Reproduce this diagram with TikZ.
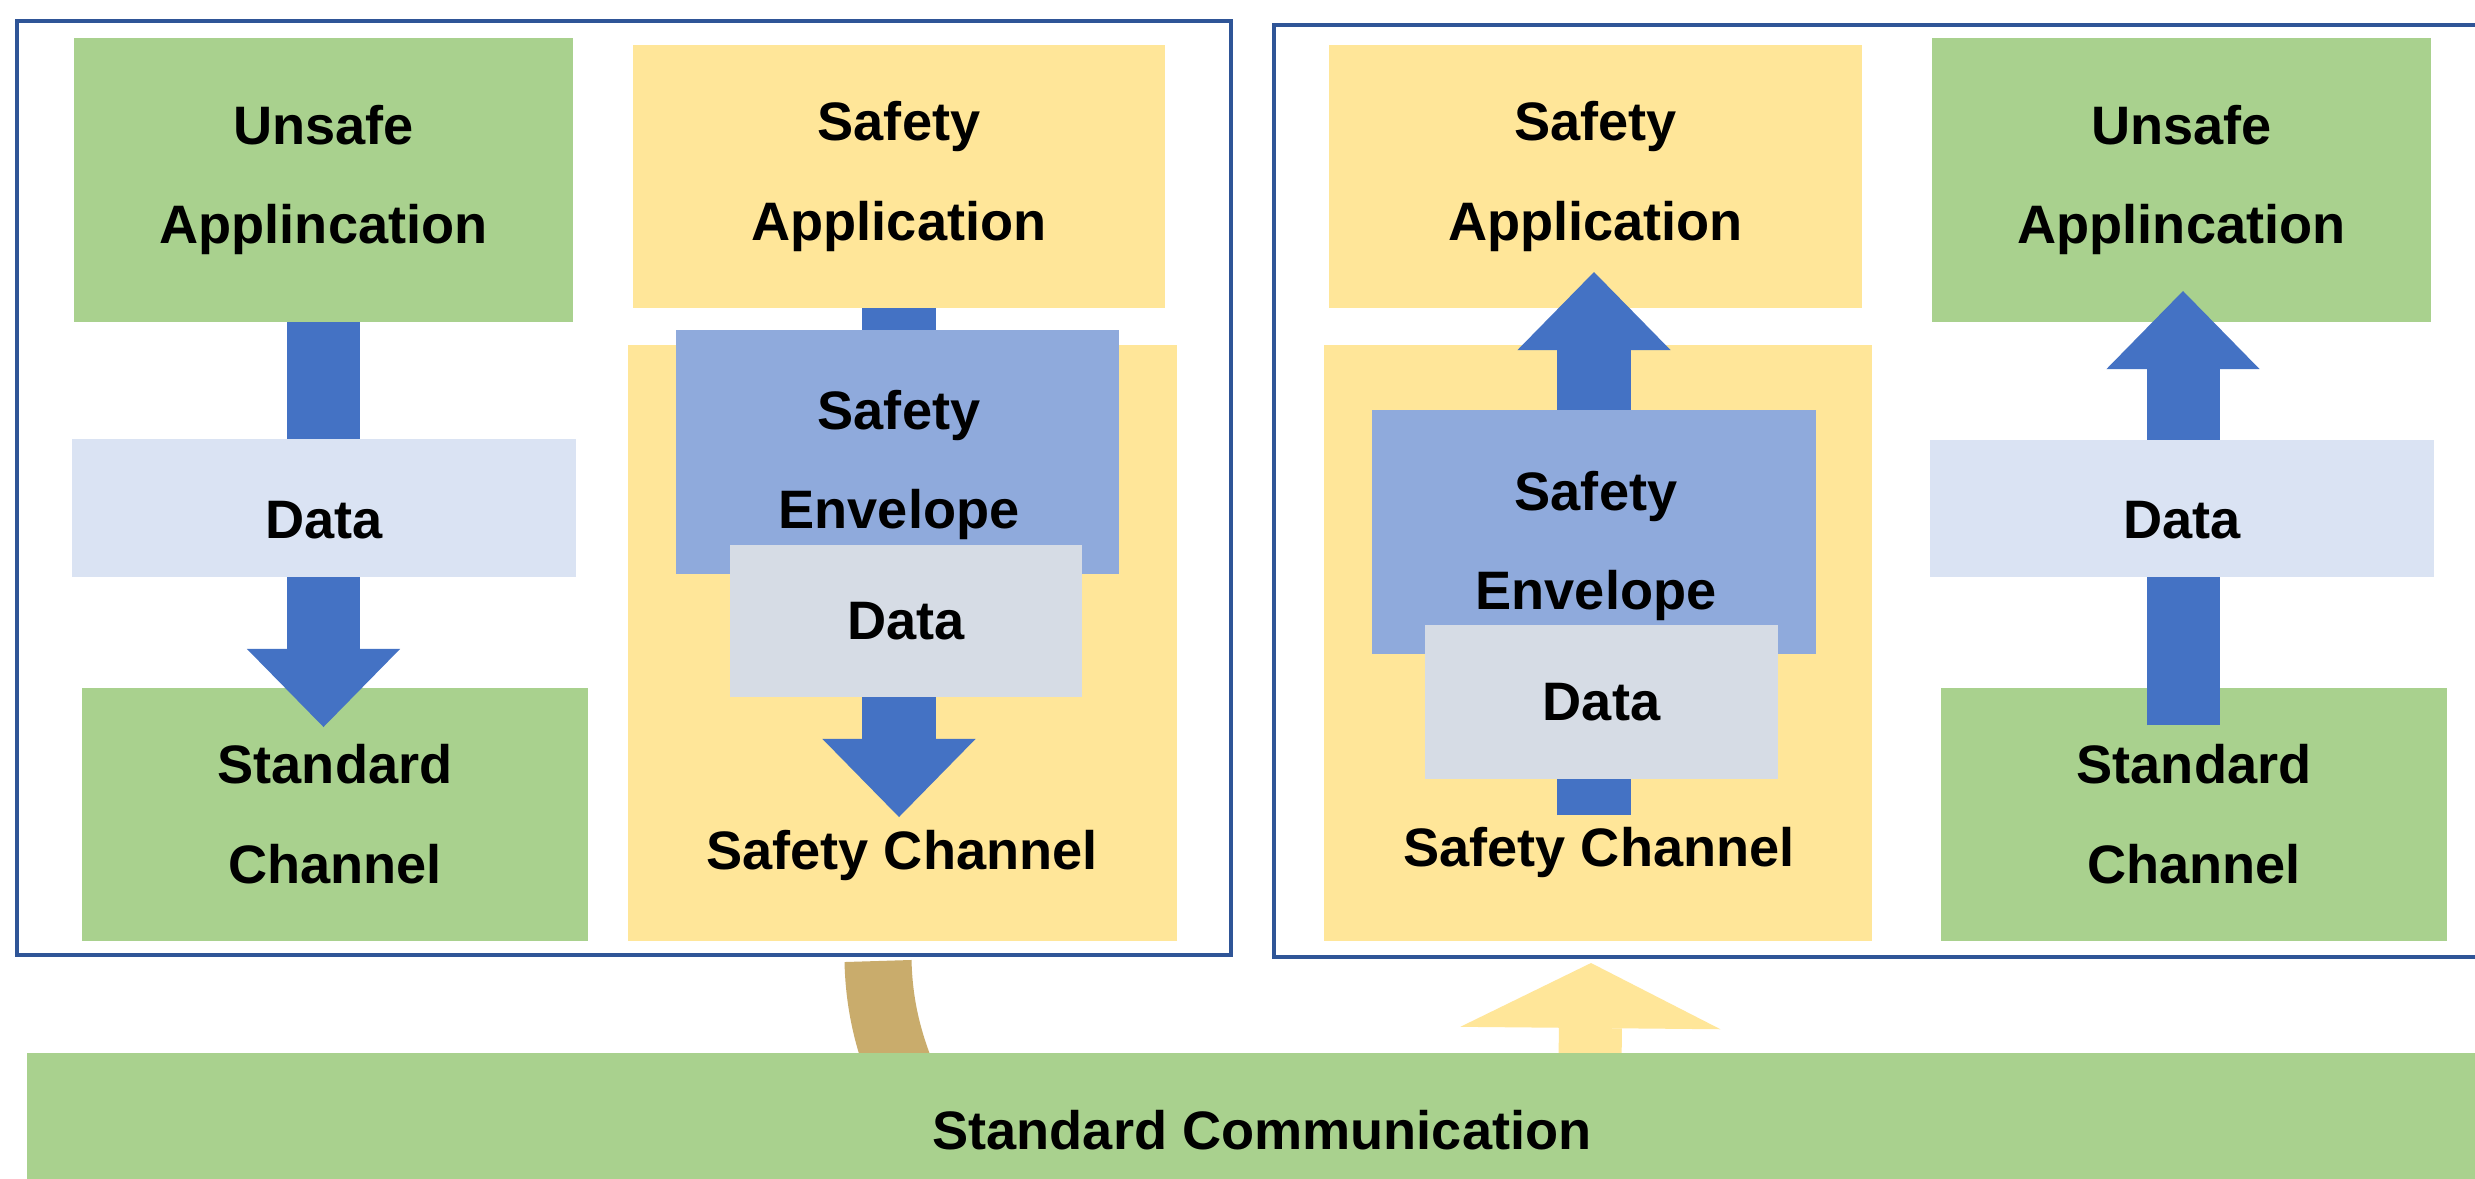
\documentclass[tikz,border=0pt]{standalone}
\usepackage{fontspec}
\setmainfont{Liberation Sans}
\usetikzlibrary{arrows.meta,calc,positioning}
\definecolor{grn}{HTML}{A9D18E}
\definecolor{ylw}{HTML}{FFE699}
\definecolor{arrblue}{HTML}{4472C4}
\definecolor{envblue}{HTML}{8FAADC}
\definecolor{dlight}{HTML}{DAE3F3}
\definecolor{dgray}{HTML}{D6DCE5}
\definecolor{frm}{HTML}{2F5597}
\definecolor{tanc}{HTML}{C9AC6C}
\tikzset{
    box/.style={
           rectangle,
           inner sep=0pt, outer sep=0pt,
           align=center,
           font=\bfseries\fontsize{15.4}{28.4}\selectfont},
    sz/.style 2 args={minimum width=#1cm, minimum height=#2cm},
    grnbox/.style={box, fill=grn},
    ylwbox/.style={box, fill=ylw},
    envbox/.style={box, fill=envblue},
    ltbox/.style={box, fill=dlight, text height=0.6cm, text depth=0cm},
    gybox/.style={box, fill=dgray},
    lbl/.style={box},
    frame/.style={draw=frm, line width=0.04cm},
    flow/.style={
           color=arrblue,
           line width=0.73cm,
           -{Triangle[width=1.53cm,length=0.78cm,line width=0pt]}},
    yflow/.style={
           color=ylw,
           line width=0.63cm,
           -{Triangle[width=2.6cm,length=0.65cm,line width=0pt]}}
}
\begin{document}
\begin{tikzpicture}[x=0.01cm, y=-0.01cm]
        \useasboundingbox (0,0) rectangle (2475,1178);
        \clip (0,0) rectangle (2475,1178);
        \fill[white] (0,0) rectangle (2475,1178);

        \draw[frame] (17,21) rectangle (1231,955);
        \draw[frame] (1274,25) rectangle (2520,957);

        % sender
        \node[grnbox, sz={4.99}{2.84}] (unsafeL) at (323.5,180) {Unsafe\\Applincation};
        \node[grnbox, sz={5.06}{2.53}] (stdL) at (335,814.5) {Standard\\Channel};
        \node[ylwbox, sz={5.32}{2.63}] (appL) at (899,176.5) {Safety\\Application};
        \node[ylwbox, sz={5.49}{5.96}] (chanL) at (902.5,643) {};
        \node[lbl] (chanLtxt) at (902,855) {Safety Channel};
        \coordinate (tipUL) at (323.5,727);
        \coordinate (tipSL) at (899,817);
        \draw[flow] (unsafeL.south) -- (tipUL);
        \draw[flow] (appL.south) -- (tipSL);
        \node[ltbox, sz={5.04}{1.38}] (dataL) at (324,508) {Data};
        \node[envbox, sz={4.43}{2.44}] (envL) at (897.5,452) {};
        \node[lbl] (envLtxt) at (899,465) {Safety\\Envelope};
        \node[gybox, sz={3.52}{1.52}] (pdataL) at (906,621) {Data};

        % receiver
        \node[ylwbox, sz={5.33}{2.63}] (appR) at (1595.5,176.5) {Safety\\Application};
        \node[ylwbox, sz={5.48}{5.96}] (chanR) at (1598,643) {};
        \node[lbl] (chanRtxt) at (1599,852) {Safety Channel};
        \node[grnbox, sz={4.99}{2.84}] (unsafeR) at (2181.5,180) {Unsafe\\Applincation};
        \node[grnbox, sz={5.06}{2.53}] (stdR) at (2194,814.5) {Standard\\Channel};
        \coordinate (baseSR) at (1594,815);
        \coordinate (tipSR) at (1594,272);
        \coordinate (baseUR) at (2183,725);
        \coordinate (tipUR) at (2183,291);
        \draw[flow] (baseSR) -- (tipSR);
        \draw[flow] (baseUR) -- (tipUR);
        \node[envbox, sz={4.44}{2.44}] (envR) at (1594,532) {};
        \node[lbl] (envRtxt) at (1596,546) {Safety\\Envelope};
        \node[gybox, sz={3.53}{1.54}] (pdataR) at (1601.5,702) {Data};
        \node[ltbox, sz={5.04}{1.37}] (dataR) at (2182,508.5) {Data};

        % bus
        \coordinate (tanTop) at (878,961);
        \coordinate (tanEnd) at (902,1075);
        \draw[tanc, line width=0.67cm] (tanTop) .. controls (879,1000) and (886,1035) .. (tanEnd);
        \coordinate (yBase) at (1590,1070);
        \coordinate (yTip) at (1591,963);
        \draw[yflow] (yBase) -- (yTip);
        \node[grnbox, sz={24.68}{1.54}] (comm) at (1262,1130) {Standard Communication};
\end{tikzpicture}
\end{document}
